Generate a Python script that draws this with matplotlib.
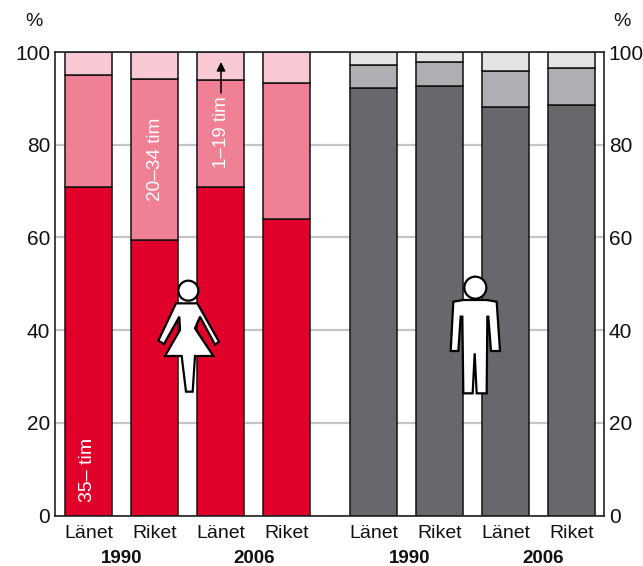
import matplotlib

matplotlib.use("Agg")

import matplotlib.pyplot as plt
from matplotlib.patches import Circle, Polygon

plt.rcParams["font.family"] = ["Liberation Sans", "DejaVu Sans"]

# cumulative boundaries, converted to segment sizes below
categories = ["Länet", "Riket", "Länet", "Riket", "Länet", "Riket", "Länet", "Riket"]
positions = [0, 1, 2, 3, 4.32, 5.32, 6.32, 7.32]
full_time = [70.9, 59.5, 70.9, 63.9, 92.2, 92.6, 88.1, 88.6]
part_long = [24.1, 34.7, 23.1, 29.5, 5.1, 5.2, 7.9, 8.0]
part_short = [5.0, 5.8, 6.0, 6.6, 2.7, 2.2, 4.0, 3.4]
year_labels = ["1990", "2006", "1990", "2006"]
year_positions = [0.507, 2.51, 4.87, 6.886]
y_ticks = [0, 20, 40, 60, 80, 100]

colors_low = ["#e0002a"] * 4 + ["#68676b"] * 4
colors_mid = ["#f08094"] * 4 + ["#aeafb2"] * 4
colors_top = ["#f9c9d3"] * 4 + ["#e3e4e6"] * 4

W, H = 643, 566
fig = plt.figure(figsize=(W / 100, H / 100), dpi=100)
ax = fig.add_axes([55 / W, 1 - 515.5 / H, (604 - 55) / W, (515.5 - 52) / H])

bottom_mid = full_time
bottom_top = [a + b for a, b in zip(full_time, part_long)]
bar_opts = dict(width=0.71, edgecolor="#111111", linewidth=1.1, zorder=2)
ax.bar(positions, full_time, color=colors_low, **bar_opts)
ax.bar(positions, part_long, bottom=bottom_mid, color=colors_mid, **bar_opts)
ax.bar(positions, part_short, bottom=bottom_top, color=colors_top, **bar_opts)

ax.set_xlim(-0.508, 7.81)
ax.set_ylim(0, 100)
ax.set_yticks(y_ticks)
ax.set_xticks(positions, categories)
ax.yaxis.grid(True, color="#c4c4c4", linewidth=1.6, zorder=0)
ax.set_axisbelow(True)
ax.tick_params(axis="y", length=0, labelsize=15, labelcolor="#111111", pad=3.5,
               labelleft=True, labelright=True)
ax.tick_params(axis="x", length=0, labelsize=14, labelcolor="#111111", pad=6.5)
for spine in ax.spines.values():
    spine.set_color("#222222")
    spine.set_linewidth(1.2)

# year row under the category labels
trans = ax.get_xaxis_transform()
for xpos, label in zip(year_positions, year_labels):
    ax.text(xpos, -0.092, label, transform=trans, ha="center", va="center",
            fontsize=13.5, fontweight="bold", color="#111111")

# overlay in pixel coordinates for the annotations and silhouettes
ov = fig.add_axes([0, 0, 1, 1], facecolor="none")
ov.set_xlim(0, W)
ov.set_ylim(H, 0)
ov.axis("off")

ov.text(34, 21, "%", ha="center", va="center", fontsize=14, color="#111111")
ov.text(622, 21, "%", ha="center", va="center", fontsize=14, color="#111111")
ov.text(155, 159, "20–34 tim", rotation=90, ha="center", va="center", fontsize=13.7, color="white")
ov.text(221, 132, "1–19 tim", rotation=90, ha="center", va="center", fontsize=13.5, color="white")
ov.text(88, 470, "35– tim", rotation=90, ha="center", va="center", fontsize=14, color="white")
ov.annotate("", xy=(221, 62), xytext=(221, 93),
            arrowprops=dict(arrowstyle="-|>", color="black", lw=1.1, mutation_scale=13,
                            shrinkA=0, shrinkB=0))

woman = [(108, 100), (172, 100), (237, 215), (225, 224), (180, 140), (165, 175), (220, 258),
         (165, 258), (158, 365), (138, 365), (125, 258), (75, 258), (120, 180), (118, 140),
         (72, 222), (55, 212)]
man = [(70, 110), (100, 105), (170, 105), (200, 110), (210, 258), (183, 258), (175, 155),
       (172, 155), (170, 385), (140, 385), (134, 265), (128, 385), (100, 385), (97, 155),
       (92, 155), (85, 258), (62, 258)]
for points, origin, head, radius in [
    (woman, (140, 270), (145, 62), 10),
    (man, (430, 265), (136, 68), 11),
]:
    ox, oy = origin
    pts = [(ox + px / 3, oy + py / 3) for px, py in points]
    ov.add_patch(Polygon(pts, closed=True, facecolor="white", edgecolor="black", linewidth=1.6, zorder=5))
    ov.add_patch(Circle((ox + head[0] / 3, oy + head[1] / 3), radius, facecolor="white",
                        edgecolor="black", linewidth=1.6, zorder=6))

fig.savefig("out.png", dpi=100)
plt.close(fig)
